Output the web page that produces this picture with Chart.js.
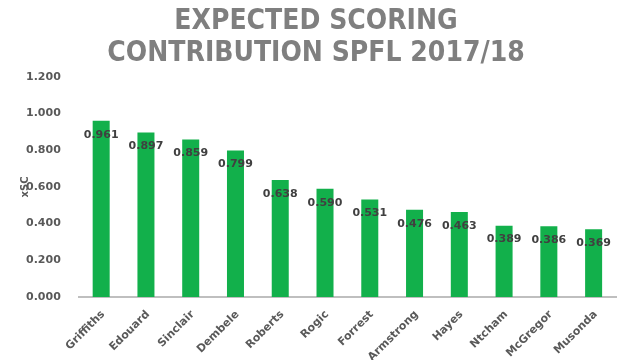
<!DOCTYPE html>
<html>
<head>
<meta charset="utf-8">
<script src="https://cdn.jsdelivr.net/npm/chart.js@4"></script>
<style>
  body { margin: 0; background: #fff; }
  #wrap { width: 631px; height: 360px; }
</style>
</head>
<body>
<div id="wrap"><canvas id="xscChart" width="631" height="360"></canvas></div>
<script>
const players = ["Griffiths", "Edouard", "Sinclair", "Dembele", "Roberts", "Rogic",
  "Forrest", "Armstrong", "Hayes", "Ntcham", "McGregor", "Musonda"];
const xscValues = [0.961, 0.897, 0.859, 0.799, 0.638, 0.590, 0.531, 0.476, 0.463, 0.389, 0.386, 0.369];
const titleLines = ["EXPECTED SCORING", "CONTRIBUTION SPFL 2017/18"];
const yTitle = "xSC";

// value labels just inside the top of each bar, plus the y axis title
const barLabels = {
  id: "barLabels",
  afterDatasetsDraw(chart) {
    const ctx = chart.ctx;
    const meta = chart.getDatasetMeta(0);
    ctx.save();
    ctx.font = "bold 11px 'DejaVu Sans'";
    ctx.fillStyle = "#404040";
    ctx.textAlign = "center";
    ctx.textBaseline = "middle";
    meta.data.forEach((bar, i) => {
      ctx.fillText(xscValues[i].toFixed(3), bar.x, bar.y + 14);
    });
    const area = chart.chartArea;
    ctx.translate(area.left - 53, (area.top + area.bottom) / 2);
    ctx.rotate(-Math.PI / 2);
    ctx.font = "bold 10px 'DejaVu Sans'";
    ctx.fillStyle = "#595959";
    ctx.fillText(yTitle, 0, 0);
    ctx.restore();
  },
};

new Chart(document.getElementById("xscChart"), {
  type: "bar",
  data: {
    labels: players,
    datasets: [
      {
        label: "xSC",
        data: xscValues,
        backgroundColor: "#12b04b",
        categoryPercentage: 1,
        barPercentage: 0.38,
      },
    ],
  },
  options: {
    responsive: false,
    animation: false,
    layout: { padding: { left: 16, right: 15, top: 4, bottom: 0 } },
    plugins: {
      legend: { display: false },
      tooltip: { enabled: false },
      title: {
        display: true,
        text: titleLines,
        color: "#7f7f7f",
        font: { family: "'DejaVu Sans Condensed'", size: 28, weight: "bold", lineHeight: 1.14 },
        padding: { top: 2, bottom: 7 },
      },
    },
    scales: {
      x: {
        grid: { display: false },
        border: { color: "#bfbfbf", width: 2 },
        afterFit: (scale) => { scale.height = 63; },
        ticks: {
          color: "#595959",
          font: { family: "'DejaVu Sans'", size: 11, weight: "bold" },
          minRotation: 45,
          maxRotation: 45,
          padding: 3,
          labelOffset: 2,
        },
      },
      y: {
        min: 0,
        max: 1.2,
        grid: { display: false },
        border: { display: false },
        ticks: {
          stepSize: 0.2,
          color: "#595959",
          padding: 10,
          font: { family: "'DejaVu Sans'", size: 11, weight: "bold" },
          callback: (v) => v.toFixed(3),
        },
      },
    },
  },
  plugins: [barLabels],
});
</script>
</body>
</html>
